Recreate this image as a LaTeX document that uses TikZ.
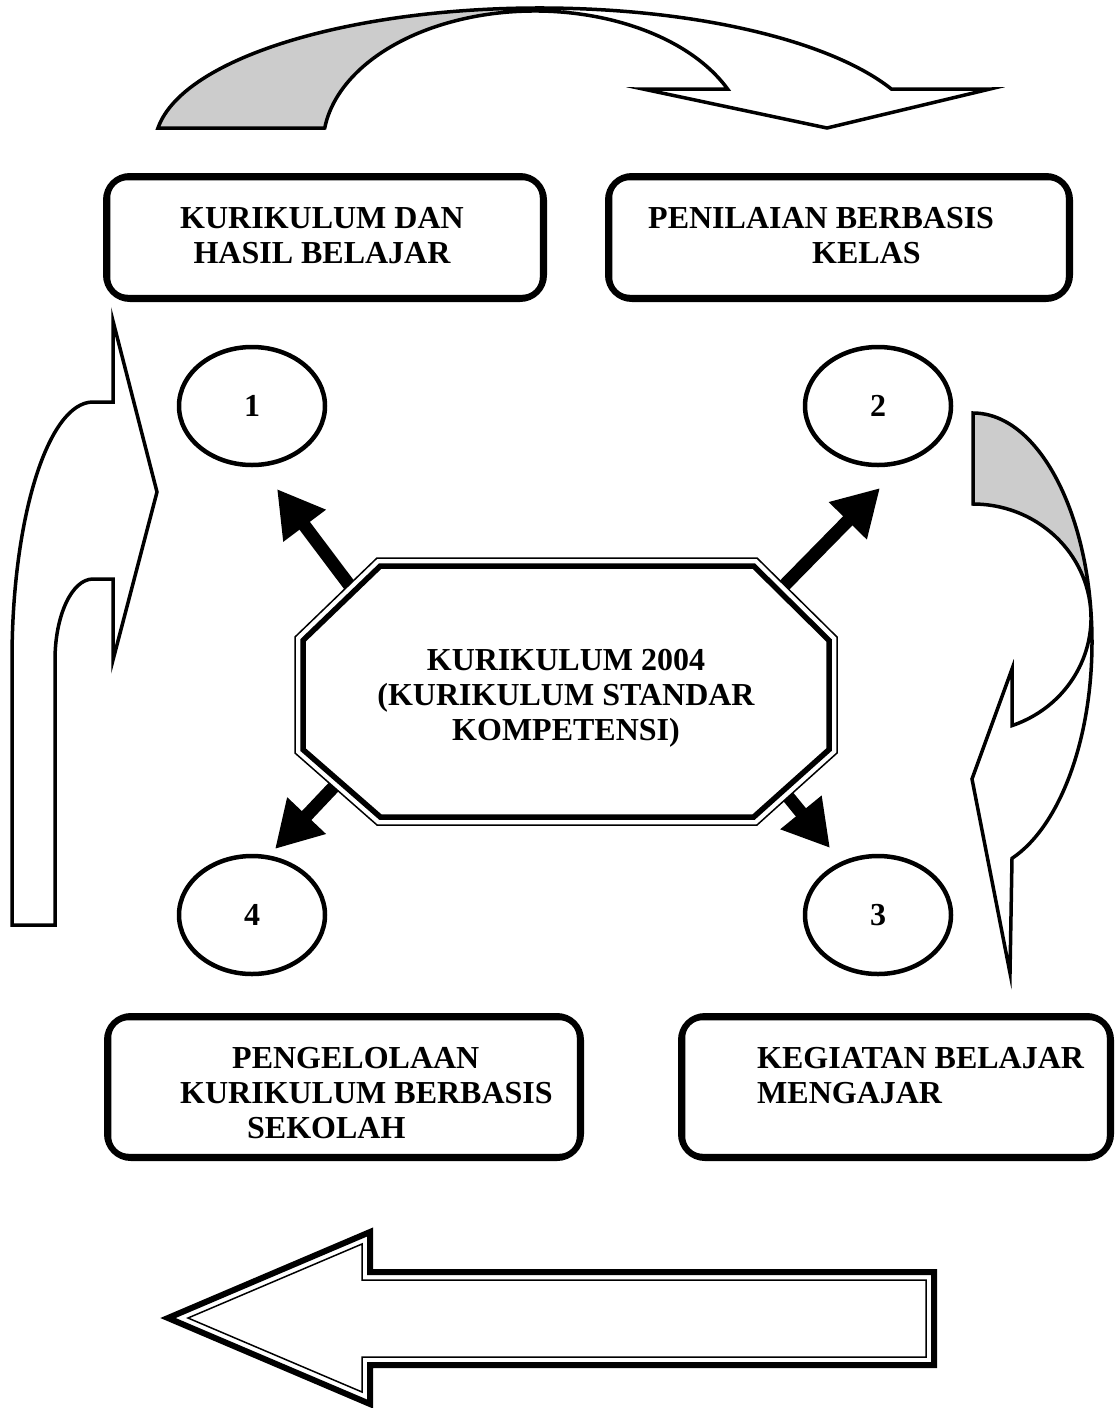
\documentclass[tikz,border=0pt]{standalone}
\usepackage{fontspec}
\setmainfont{Liberation Serif}
\usetikzlibrary{arrows.meta,shapes.geometric}
\definecolor{ribbongray}{RGB}{204,204,204}
\begin{document}
\begin{tikzpicture}[x=1pt,y=-1pt,
  txt/.style={font=\fontsize{32}{35}\selectfont\bfseries, inner sep=0pt},
  outl/.style={line width=3.5pt, line join=miter},
  rbox/.style={draw, line width=6pt, rounded corners=24pt, fill=white, inner sep=0pt},
  rinner/.style={line width=1.5pt, rounded corners=18pt},
  circ/.style={ellipse, draw, line width=4.5pt, minimum width=146pt, minimum height=118pt, inner sep=0pt, font=\fontsize{32}{35}\selectfont\bfseries},
  bigarr/.style={line width=13pt, -{Triangle[length=46pt,width=50pt]}}
]
\useasboundingbox (0,0) rectangle (1115,1408);

% ---- top curved arrow
\fill[ribbongray] ([shift={(187.1:385 and 137)}]540,145) arc[start angle=187.1, end angle=270, x radius=385, y radius=137]
  -- (535,11) arc[start angle=270, end angle=187.29, x radius=212, y radius=134] -- cycle;
\draw[outl] ([shift={(187.1:385 and 137)}]540,145) arc[start angle=187.1, end angle=335.9, x radius=385, y radius=137]
  -- (990,89) -- (827,128) -- (643,89)
  -- ([shift={(335.3:212 and 134)}]535,145) arc[start angle=335.3, end angle=187.29, x radius=212, y radius=134] -- cycle;

% ---- left arrow
\draw[outl] (12,925) -- (12,660) arc[start angle=180, end angle=270, x radius=81, y radius=258]
  -- (113,402) -- (113,321) -- (157,492) -- (113,660) -- (113,579) -- (93,579)
  arc[start angle=270, end angle=180, x radius=38, y radius=81] -- (55,925) -- cycle;

% ---- right curved arrow
\fill[ribbongray] (973,413) arc[start angle=-90, end angle=-6, x radius=119, y radius=229]
  -- ([shift={(0:118 and 114)}]973,618) arc[start angle=0, end angle=-90, x radius=118, y radius=114] -- cycle;
\draw[outl] (973,413) arc[start angle=-90, end angle=70.87, x radius=119, y radius=229]
  -- (1010,973) -- (972,779) -- (1012,669)
  -- ([shift={(70.7:118 and 114)}]973,618) arc[start angle=70.7, end angle=-90, x radius=118, y radius=114] -- cycle;

% ---- boxes
\node[rbox, minimum width=438pt, minimum height=123pt] (b1) at (325,237.5) {};
\node[rbox, minimum width=462pt, minimum height=123pt] (b2) at (839,237.5) {};
\node[rbox, minimum width=474pt, minimum height=142pt] (b3) at (344,1087) {};
\node[rbox, minimum width=430pt, minimum height=142pt] (b4) at (896,1087) {};
\foreach \b in {b1,b2,b3,b4}
  \draw[rinner] ([shift={(6.5,6.5)}]\b.north west) rectangle ([shift={(-6.5,-6.5)}]\b.south east);

\node[txt, anchor=north, align=center] (t1) at (322,207.5) {KURIKULUM DAN\\HASIL BELAJAR};
\node[txt, anchor=north west, align=left] (t2) at (648,207.5) {PENILAIAN BERBASIS\\\hspace*{164pt}KELAS};
\node[txt, anchor=north west, align=left] (t3) at (180,1047.5) {\hspace*{52pt}PENGELOLAAN\\KURIKULUM BERBASIS\\\hspace*{67pt}SEKOLAH};
\node[txt, anchor=north west, align=left] (t4) at (757,1047.5) {KEGIATAN BELAJAR\\MENGAJAR};

% ---- circles
\node[circ] (c1) at (252,406) {1};
\node[circ] (c2) at (878,406) {2};
\node[circ] (c3) at (878,915) {3};
\node[circ] (c4) at (252,915) {4};

% ---- thick arrows
\coordinate (a1s) at (362,602); \coordinate (a1e) at (277,489);
\coordinate (a2s) at (768,602); \coordinate (a2e) at (880,488);
\coordinate (a3s) at (768,772); \coordinate (a3e) at (830,848);
\coordinate (a4s) at (345,775); \coordinate (a4e) at (275,849);
\draw[bigarr] (a1s) -- (a1e);
\draw[bigarr] (a2s) -- (a2e);
\draw[bigarr] (a3s) -- (a3e);
\draw[bigarr] (a4s) -- (a4e);

% ---- octagon
\fill[white] (377,558) -- (757,558) -- (837,637) -- (837,753) -- (757,825) -- (377,825) -- (295,753) -- (295,637) -- cycle;
\draw[line width=1.5pt, line join=miter] (377,558) -- (757,558) -- (837,637) -- (837,753) -- (757,825) -- (377,825) -- (295,753) -- (295,637) -- cycle;
\draw[line width=5.5pt, line join=miter] (380.3,566) -- (753.7,566) -- (829,640.4) -- (829,749.6) -- (753.7,817) -- (380.3,817) -- (303,749.6) -- (303,640.4) -- cycle;
\node[txt, anchor=north, align=center] (oct) at (566,649) {KURIKULUM 2004\\(KURIKULUM STANDAR\\KOMPETENSI)};

% ---- bottom arrow
\draw[line width=6pt, line join=miter] (168,1318) -- (370,1232) -- (370,1272) -- (934,1272) -- (934,1365) -- (370,1365) -- (370,1404) -- cycle;
\draw[line width=1.5pt, line join=miter] (188,1318) -- (362,1244) -- (362,1280) -- (926,1280) -- (926,1357) -- (362,1357) -- (362,1392) -- cycle;
\end{tikzpicture}
\end{document}
